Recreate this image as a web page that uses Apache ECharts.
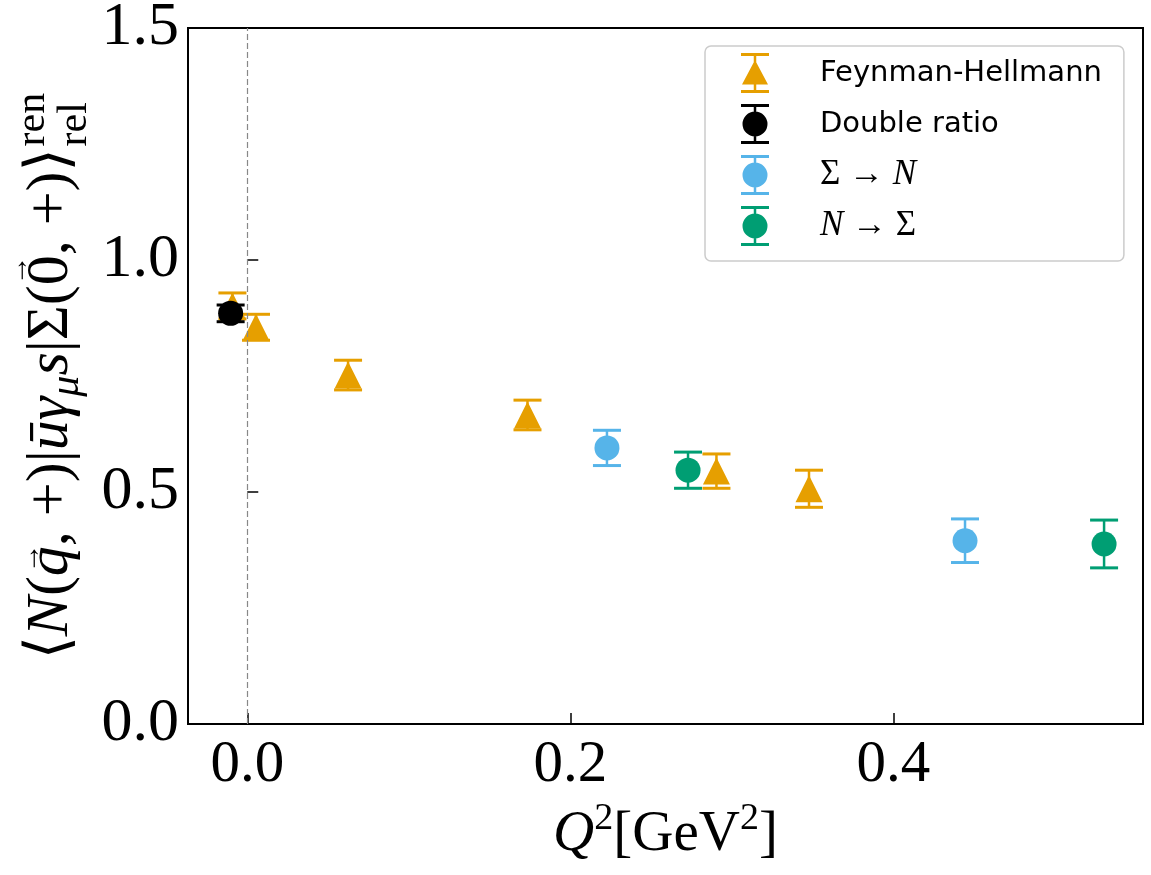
<!DOCTYPE html>
<html>
<head>
<meta charset="utf-8">
<script src="https://cdn.jsdelivr.net/npm/echarts@6/dist/echarts.min.js"></script>
<style>
  html, body { margin: 0; padding: 0; background: #ffffff; }
  #chart { width: 1151px; height: 875px; }
</style>
</head>
<body>
<div id="chart"></div>
<script>
// Form factor ratio vs momentum transfer Q^2 [GeV^2]
const fhQ2  = [-0.0092, 0.0054, 0.0624, 0.1735, 0.2905, 0.3478];
const fhVal = [0.901, 0.855, 0.752, 0.666, 0.545, 0.507];
const fhErr = [0.028, 0.028, 0.032, 0.032, 0.037, 0.040];

const drQ2  = [-0.0103];
const drVal = [0.885];
const drErr = [0.018];

const snQ2  = [0.2227, 0.4444];
const snVal = [0.595, 0.395];
const snErr = [0.038, 0.047];

const nsQ2  = [0.2729, 0.5305];
const nsVal = [0.547, 0.388];
const nsErr = [0.039, 0.0515];

const xTicks = [0, 0.2, 0.4];

const seriesNames = ['Feynman-Hellmann', 'Double ratio', 'Σ → N', 'N → Σ'];
const colors = ['#E69F00', '#000000', '#56B4E9', '#009E73'];

const SERIF_NAME = 'Liberation Serif';
const SERIF = '"Liberation Serif", "DejaVu Serif", serif';
const SANS = '"DejaVu Sans", sans-serif';

// legend icons: marker with error-bar caps (28 x 40 box)
const barPath = 'M0 0 H28 V3 H0 Z M0 37 H28 V40 H0 Z M12.75 0 H15.25 V40 H12.75 Z ';
const triIcon = 'path://' + barPath + 'M14 7 L27 31.5 L1 31.5 Z';
const dotIcon = 'path://' + barPath + 'M14 7.5 A12.5 12.5 0 1 1 14 32.5 A12.5 12.5 0 1 1 14 7.5 Z';

function points(xs, ys) { return xs.map((x, i) => [x, ys[i]]); }
function errPoints(xs, ys, es) { return xs.map((x, i) => [x, ys[i], es[i]]); }

function errorBarSeries(name, color, xs, ys, es) {
  return {
    type: 'custom',
    name: name + ' err',
    z: 2,
    silent: true,
    data: errPoints(xs, ys, es),
    encode: { x: 0, y: 1 },
    renderItem: function (params, api) {
      const x = api.value(0), y = api.value(1), e = api.value(2);
      const top = api.coord([x, y + e]);
      const bot = api.coord([x, y - e]);
      const hw = 14;
      return {
        type: 'group',
        children: [
          { type: 'line', shape: { x1: top[0], y1: top[1], x2: bot[0], y2: bot[1] },
            style: { stroke: color, lineWidth: 2.5 } },
          { type: 'line', shape: { x1: top[0] - hw, y1: top[1], x2: top[0] + hw, y2: top[1] },
            style: { stroke: color, lineWidth: 3 } },
          { type: 'line', shape: { x1: bot[0] - hw, y1: bot[1], x2: bot[0] + hw, y2: bot[1] },
            style: { stroke: color, lineWidth: 3 } }
        ]
      };
    }
  };
}

function markerSeries(name, color, symbol, size, xs, ys) {
  return {
    type: 'scatter',
    name: name,
    z: 3,
    symbol: symbol,
    symbolSize: size,
    itemStyle: { color: color, opacity: 1 },
    emphasis: { disabled: true },
    data: points(xs, ys)
  };
}

// ---- rotated y-axis title laid out piece by piece (scripts and vector arrows) ----
const measureCtx = document.createElement('canvas').getContext('2d');
function textWidth(text, size, italic) {
  measureCtx.font = (italic ? 'italic ' : '') + size + 'px "' + SERIF_NAME + '", serif';
  return measureCtx.measureText(text).width;
}

function buildYTitle(cx, cy) {
  const M = 60, S = 42, A = 30;          // main, script and arrow font sizes
  const MID = 0.305;                      // em-box middle above the baseline
  const pieces = [
    { t: '⟨' }, { t: 'N', it: true }, { t: '(' }, { t: 'q', it: true, vec: 0.50 },
    { t: ', ' }, { t: '+' }, { t: ')' }, { t: '|' },
    { t: 'ū', it: true }, { t: 'γ', it: true }, { t: 'μ', it: true, sub: 0.17 },
    { t: 's', it: true }, { t: '|' }, { t: 'Σ' }, { t: '(' }, { t: '0', vec: 0.70 },
    { t: ', ' }, { t: '+' }, { t: ')' }, { t: '⟩' },
    { stack: ['ren', 'rel'] }
  ];
  const children = [];
  let x = 0;
  pieces.forEach(p => {
    if (p.stack) {
      const w0 = textWidth(p.stack[0], S, false);
      const w1 = textWidth(p.stack[1], S, false);
      children.push({ t: p.stack[0], x: x + 2, base: -0.40 * M, size: S, it: false });
      children.push({ t: p.stack[1], x: x + 2, base: 0.30 * M, size: S, it: false });
      x += 2 + Math.max(w0, w1);
      return;
    }
    const size = p.sub ? S : M;
    const w = textWidth(p.t, size, p.it);
    const base = p.sub ? p.sub * M : 0;
    children.push({ t: p.t, x: x, base: base, size: size, it: !!p.it });
    if (p.vec) {
      const aw = textWidth('→', A, false);
      children.push({ t: '→', x: x + (w - aw) / 2 + (p.it ? 3 : 0), base: -p.vec * M, size: A, it: false });
    }
    x += w;
  });
  const total = x;
  return {
    type: 'group',
    x: cx,
    y: cy,
    rotation: Math.PI / 2,
    silent: true,
    children: children.map(c => ({
      type: 'text',
      x: c.x - total / 2,
      y: c.base - MID * c.size,
      style: {
        text: c.t,
        fontFamily: SERIF,
        fontStyle: c.it ? 'italic' : 'normal',
        fontSize: c.size,
        fill: '#000',
        align: 'left',
        verticalAlign: 'middle'
      }
    }))
  };
}

const chart = echarts.init(document.getElementById('chart'), null, { renderer: 'canvas' });

const option = {
  animation: false,
  backgroundColor: '#ffffff',
  grid: {
    left: 188, right: 8, top: 28, bottom: 151,
    show: true, borderColor: '#000000', borderWidth: 2,
    backgroundColor: 'transparent',
    outerBoundsMode: 'none'
  },
  graphic: [buildYTitle(70, 376)],
  xAxis: {
    type: 'value',
    min: -0.0367,
    max: 0.5546,
    axisLine: { show: false },
    splitLine: { show: false },
    axisTick: {
      show: true, inside: true, length: 11,
      lineStyle: { color: '#000', width: 1.5 },
      customValues: xTicks
    },
    axisLabel: {
      customValues: xTicks,
      formatter: v => Number(v).toFixed(1),
      fontFamily: SERIF, fontSize: 59, color: '#000', margin: 12
    },
    name: '{i|Q}{sup|2}{m|[GeV}{sup|2}{m|]}',
    nameLocation: 'middle',
    nameGap: 70,
    nameTextStyle: {
      rich: {
        i: { fontFamily: SERIF, fontStyle: 'italic', fontSize: 57, lineHeight: 70, color: '#000' },
        m: { fontFamily: SERIF, fontSize: 57, lineHeight: 70, color: '#000' },
        sup: { fontFamily: SERIF, fontSize: 38, lineHeight: 52, verticalAlign: 'top', color: '#000' }
      }
    }
  },
  yAxis: {
    type: 'value',
    min: 0,
    max: 1.5,
    interval: 0.5,
    axisLine: { show: false },
    splitLine: { show: false },
    axisTick: {
      show: true, inside: true, length: 11,
      lineStyle: { color: '#000', width: 1.5 }
    },
    axisLabel: {
      formatter: v => Number(v).toFixed(1),
      fontFamily: SERIF, fontSize: 62, color: '#000', margin: 9
    }
  },
  legend: {
    orient: 'vertical',
    left: 705,
    top: 46,
    selectedMode: false,
    itemWidth: 28,
    itemHeight: 40,
    itemGap: 11,
    padding: [7, 22, 15, 36],
    backgroundColor: '#ffffff',
    borderColor: '#cccccc',
    borderWidth: 1.5,
    borderRadius: 6,
    data: [
      { name: seriesNames[0], icon: triIcon },
      { name: seriesNames[1], icon: dotIcon },
      { name: seriesNames[2], icon: dotIcon },
      { name: seriesNames[3], icon: dotIcon }
    ],
    formatter: function (name) {
      if (name === seriesNames[2]) return '{g|Σ}{a| → }{n|N}';
      if (name === seriesNames[3]) return '{n|N}{a| → }{g|Σ}';
      return '{t|' + name + '}';
    },
    textStyle: {
      color: '#000',
      fontFamily: SANS,
      fontSize: 29,
      padding: [0, 0, 0, 46],
      rich: {
        t: { fontFamily: SANS, fontSize: 29, color: '#000' },
        g: { fontFamily: SERIF, fontSize: 35, color: '#000' },
        a: { fontFamily: SERIF, fontSize: 35, color: '#000' },
        n: { fontFamily: SERIF, fontStyle: 'italic', fontSize: 35, color: '#000' }
      }
    }
  },
  series: [
    errorBarSeries(seriesNames[0], colors[0], fhQ2, fhVal, fhErr),
    errorBarSeries(seriesNames[1], colors[1], drQ2, drVal, drErr),
    errorBarSeries(seriesNames[2], colors[2], snQ2, snVal, snErr),
    errorBarSeries(seriesNames[3], colors[3], nsQ2, nsVal, nsErr),
    Object.assign(markerSeries(seriesNames[0], colors[0], 'triangle', 27, fhQ2, fhVal), {
      markLine: {
        silent: true,
        symbol: 'none',
        label: { show: false },
        lineStyle: { color: '#888888', type: [6, 3], width: 1.2 },
        data: [{ xAxis: 0 }]
      }
    }),
    markerSeries(seriesNames[1], colors[1], 'circle', 25, drQ2, drVal),
    markerSeries(seriesNames[2], colors[2], 'circle', 25, snQ2, snVal),
    markerSeries(seriesNames[3], colors[3], 'circle', 25, nsQ2, nsVal)
  ]
};

chart.setOption(option);
</script>
</body>
</html>
